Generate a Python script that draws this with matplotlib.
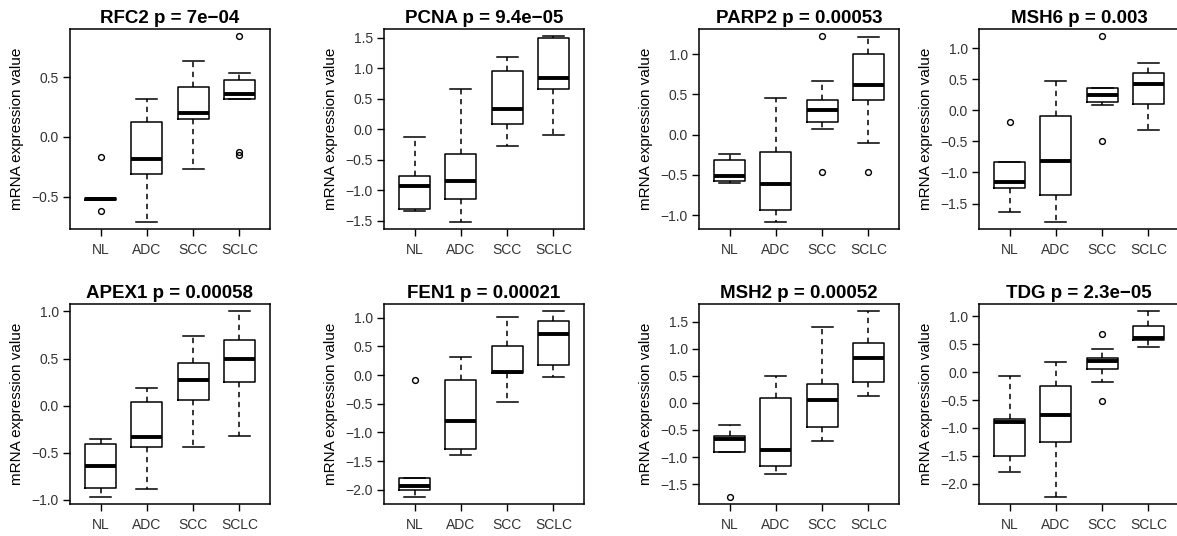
import numpy as np
import matplotlib
matplotlib.use('Agg')
from matplotlib import pyplot as plt

plt.rcParams['font.family'] = ['Liberation Sans', 'DejaVu Sans']

groups = ['NL', 'ADC', 'SCC', 'SCLC']

# per gene: [whisker low, q1, median, q3, whisker high] for NL, ADC, SCC, SCLC
rfc2 = [[-0.53, -0.53, -0.52, -0.51, -0.51],
        [-0.71, -0.31, -0.19, 0.12, 0.32],
        [-0.27, 0.145, 0.20, 0.42, 0.63],
        [0.316, 0.316, 0.36, 0.475, 0.53]]
rfc2_out = [[-0.17, -0.62], [], [], [0.84, -0.13, -0.15]]

pcna = [[-1.33, -1.31, -0.93, -0.77, -0.12],
        [-1.51, -1.14, -0.84, -0.40, 0.66],
        [-0.27, 0.09, 0.34, 0.96, 1.19],
        [-0.10, 0.66, 0.84, 1.49, 1.52]]
pcna_out = [[], [], [], []]

parp2 = [[-0.60, -0.575, -0.51, -0.32, -0.24],
         [-1.08, -0.93, -0.61, -0.21, 0.46],
         [0.07, 0.155, 0.30, 0.435, 0.67],
         [-0.10, 0.435, 0.62, 1.00, 1.21]]
parp2_out = [[], [], [1.22, -0.47], [-0.46]]

msh6 = [[-1.64, -1.245, -1.15, -0.83, -0.83],
        [-1.79, -1.36, -0.815, -0.086, 0.47],
        [0.09, 0.14, 0.25, 0.36, 0.36],
        [-0.32, 0.10, 0.43, 0.595, 0.77]]
msh6_out = [[-0.19], [], [1.19, -0.50], []]

apex1 = [[-0.965, -0.87, -0.645, -0.41, -0.35],
         [-0.88, -0.435, -0.33, 0.04, 0.185],
         [-0.44, 0.06, 0.27, 0.45, 0.74],
         [-0.32, 0.255, 0.495, 0.70, 1.00]]
apex1_out = [[], [], [], []]

fen1 = [[-2.12, -2.01, -1.93, -1.80, -1.80],
        [-1.39, -1.29, -0.80, -0.08, 0.31],
        [-0.47, 0.03, 0.06, 0.51, 1.02],
        [-0.035, 0.175, 0.71, 0.945, 1.11]]
fen1_out = [[-0.09], [], [], []]

msh2 = [[-0.91, -0.91, -0.66, -0.61, -0.40],
        [-1.31, -1.17, -0.865, 0.095, 0.49],
        [-0.71, -0.45, 0.05, 0.355, 1.41],
        [0.13, 0.385, 0.835, 1.105, 1.69]]
msh2_out = [[-1.73], [], [], []]

tdg = [[-1.79, -1.50, -0.90, -0.845, -0.07],
       [-2.23, -1.245, -0.77, -0.255, 0.19],
       [-0.18, 0.065, 0.20, 0.25, 0.41],
       [0.46, 0.57, 0.605, 0.82, 1.09]]
tdg_out = [[], [], [0.68, -0.51], []]

titles = ['RFC2 p = 7e\u221204', 'PCNA p = 9.4e\u221205', 'PARP2 p = 0.00053', 'MSH6 p = 0.003',
          'APEX1 p = 0.00058', 'FEN1 p = 0.00021', 'MSH2 p = 0.00052', 'TDG p = 2.3e\u221205']
all_stats = [rfc2, pcna, parp2, msh6, apex1, fen1, msh2, tdg]
all_out = [rfc2_out, pcna_out, parp2_out, msh6_out, apex1_out, fen1_out, msh2_out, tdg_out]

W, H = 1177, 536
lefts = [70, 384, 699, 979]
tops = [29, 304]


def plotGene(ax, title, stats, outliers):
    bxp_stats = []
    for s, o in zip(stats, outliers):
        bxp_stats.append({'whislo': s[0], 'q1': s[1], 'med': s[2], 'q3': s[3],
                          'whishi': s[4], 'fliers': np.array(o)})
    ax.bxp(bxp_stats, positions=[1, 2, 3, 4], widths=0.67, capwidths=0.45,
           boxprops=dict(color='black', linewidth=1.1),
           medianprops=dict(color='black', linewidth=2.8, solid_capstyle='butt'),
           whiskerprops=dict(color='black', linewidth=1.1, linestyle=(0, (3.5, 3))),
           capprops=dict(color='black', linewidth=1.1),
           flierprops=dict(marker='o', markersize=4.2, markerfacecolor='none',
                           markeredgecolor='black', markeredgewidth=1.0))
    vals = [v for s in stats for v in s] + [v for o in outliers for v in o]
    lo, hi = min(vals), max(vals)
    ext = (hi - lo) * 0.04
    ax.set_ylim(lo - ext, hi + ext)
    ax.set_xlim(0.34, 4.66)
    ticks = np.arange(-2.5, 2.01, 0.5)
    ticks = ticks[(ticks >= lo - ext) & (ticks <= hi + ext)]
    ax.set_yticks(ticks)
    ax.set_yticklabels([('%.1f' % abs(t)) if t > -1e-9 else '\u2212%.1f' % abs(t) for t in ticks])
    ax.set_xticks([1, 2, 3, 4])
    ax.set_xticklabels(groups)
    ax.tick_params(axis='both', length=5, width=1.0, labelsize=10, labelcolor='#333333', pad=3)
    ax.tick_params(axis='x', pad=5)
    for sp in ax.spines.values():
        sp.set_linewidth(1.1)
    ax.set_title(title, fontsize=13.5, fontweight='bold', pad=4)
    ax.set_ylabel('mRNA expression value', fontsize=11)
    ax.yaxis.set_label_coords(-0.23, 0.5)


fig = plt.figure(figsize=(W / 100, H / 100), dpi=100)
for i in range(8):
    r, c = divmod(i, 4)
    ax = fig.add_axes([lefts[c] / W, 1 - (tops[r] + 200) / H, 200 / W, 200 / H])
    plotGene(ax, titles[i], all_stats[i], all_out[i])

plt.savefig('out.png', dpi=100)
